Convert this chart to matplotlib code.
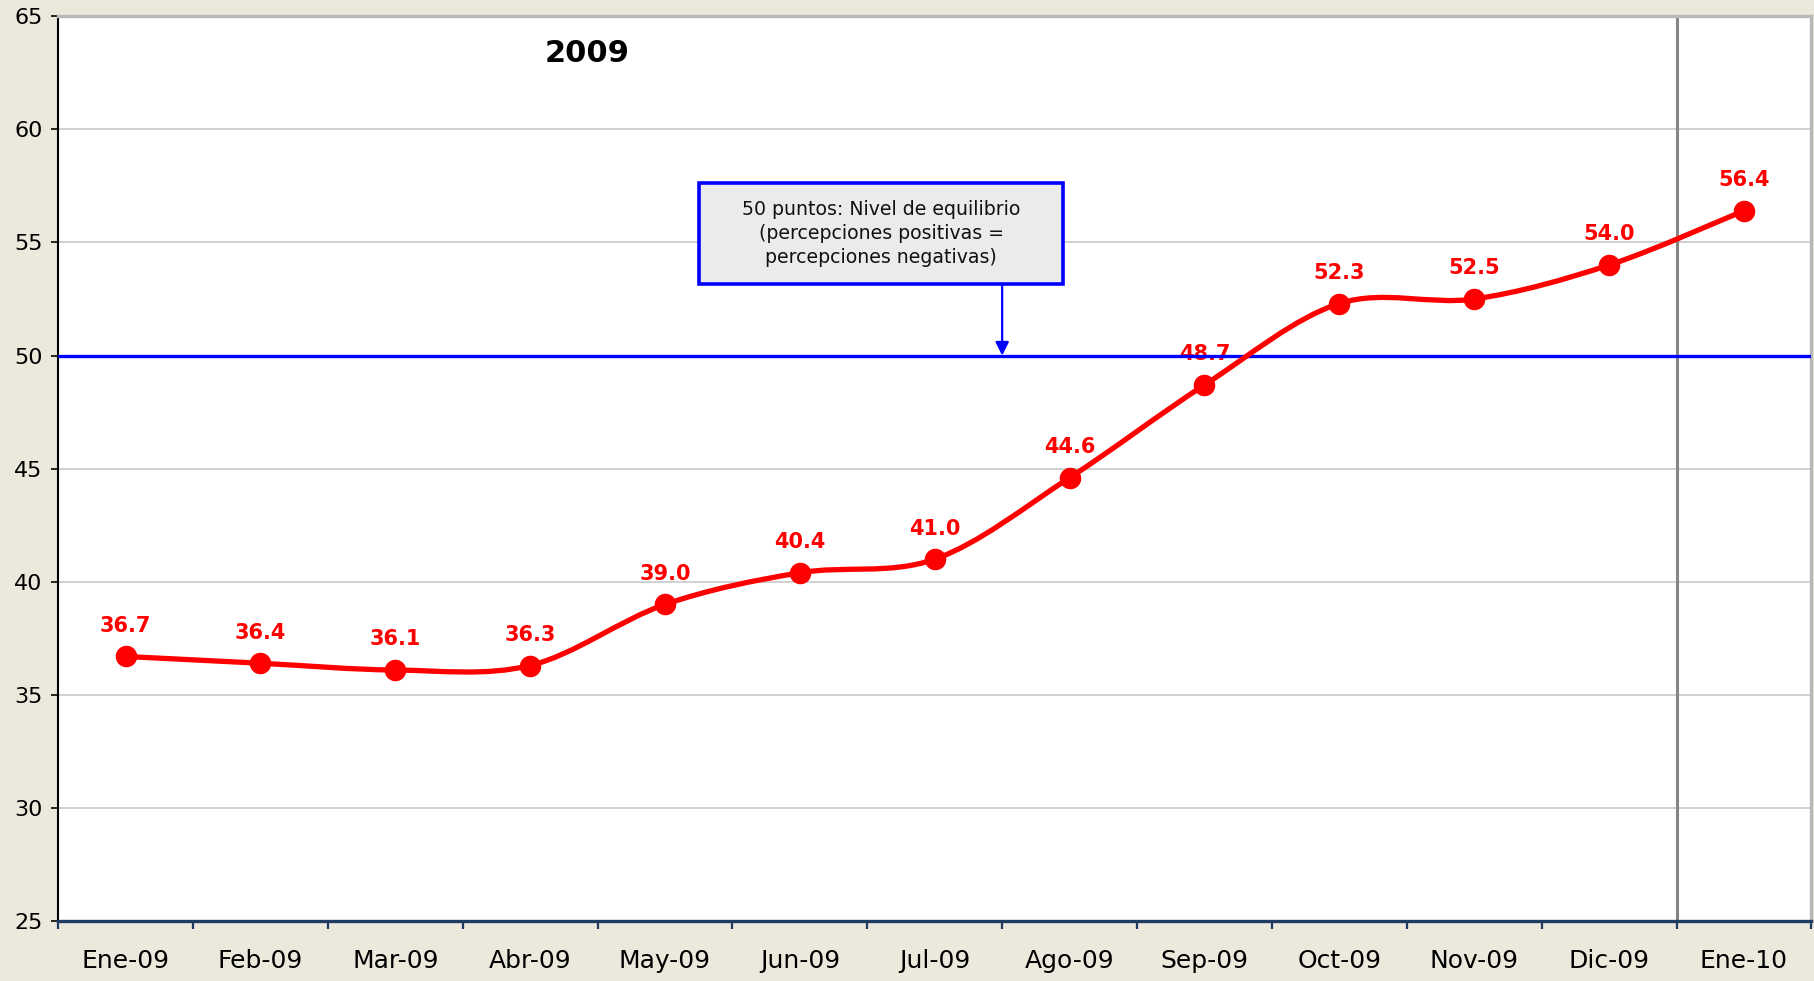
#!/usr/bin/env python3

import matplotlib.pyplot as plt
import numpy as np
from matplotlib.path import Path
from matplotlib.patches import PathPatch, Rectangle

# Data
months = ['Ene-09', 'Feb-09', 'Mar-09', 'Abr-09', 'May-09', 'Jun-09', 'Jul-09',
          'Ago-09', 'Sep-09', 'Oct-09', 'Nov-09', 'Dic-09', 'Ene-10']
values = [36.7, 36.4, 36.1, 36.3, 39.0, 40.4, 41.0, 44.6, 48.7, 52.3, 52.5, 54.0, 56.4]
equilibrium = 50
year_title = '2009'
note_text = '50 puntos: Nivel de equilibrio\n(percepciones positivas =\npercepciones negativas)'


def smooth_path(x, y):
    # Excel-style smoothed line: cubic Bezier segments through every point
    pts = np.column_stack([x, y]).astype(float)
    n = len(pts)
    verts = [pts[0]]
    codes = [Path.MOVETO]
    for i in range(n - 1):
        p_prev = pts[max(i - 1, 0)]
        p0 = pts[i]
        p1 = pts[i + 1]
        p_next = pts[min(i + 2, n - 1)]
        c1 = p0 + (p1 - p_prev) / 6.0
        c2 = p1 - (p_next - p0) / 6.0
        verts += [c1, c2, p1]
        codes += [Path.CURVE4] * 3
    return Path(verts, codes)


def main():
    red = '#ff0000'
    blue = '#0000ff'
    navy = '#1f3b64'

    fig = plt.figure(figsize=(18.15, 9.81), dpi=100, facecolor='#ebe9dc')
    ax = fig.add_axes([0.032, 0.061, 0.966, 0.9225])
    ax.set_facecolor('white')

    x = np.arange(len(months))

    # Equilibrium line (drawn over the labels, under the red series)
    ax.axhline(equilibrium, color=blue, lw=2.4, zorder=6)

    # Separator between 2009 and 2010
    ax.axvline(11.5, color='#858585', lw=2.2, zorder=2)

    # Smoothed series line and markers
    ax.add_patch(PathPatch(smooth_path(x, values), facecolor='none',
                           edgecolor=red, lw=3.8, zorder=7, capstyle='round'))
    ax.plot(x, values, 'o', color=red, markersize=14.5, zorder=8)

    for xi, v in zip(x, values):
        ax.annotate(f'{v:.1f}', (xi, v), xytext=(0, 22), textcoords='offset points',
                    ha='center', va='center', color=red, fontsize=15,
                    fontweight='bold', zorder=5)

    # Title inside the plot
    ax.text(3.42, 63.35, year_title, ha='center', va='center', fontsize=22,
            fontweight='bold', color='black')

    # Annotation box with arrow
    ax.add_patch(Rectangle((4.253, 53.18), 2.70, 4.45, facecolor='#e9ebed',
                           edgecolor=blue, lw=2.6, zorder=9))
    ax.text(5.603, 55.40, note_text, ha='center', va='center', fontsize=13.6,
            linespacing=1.35, color='#111111', zorder=10)
    ax.annotate('', xy=(6.5, equilibrium), xytext=(6.5, 53.18),
                arrowprops=dict(arrowstyle='-|>', color=blue, lw=1.6,
                                mutation_scale=20, shrinkA=0, shrinkB=0),
                zorder=9)

    # Axes, ticks and grid
    ax.set_xlim(-0.5, len(months) - 0.5)
    ax.set_ylim(25, 65)
    ax.set_yticks(np.arange(25, 66, 5))
    ax.set_xticks(x)
    ax.set_xticklabels(months)
    ax.set_xticks(np.arange(-0.5, len(months)), minor=True)
    ax.tick_params(axis='x', which='major', length=0, pad=20, labelsize=18)
    ax.tick_params(axis='x', which='minor', length=6, width=1.6, color=navy)
    ax.tick_params(axis='y', length=5, width=1.2, pad=6, labelsize=16)
    ax.grid(axis='y', color='#c4c4c4', lw=1.1, zorder=1)
    ax.set_axisbelow(True)

    ax.spines['left'].set_color('black')
    ax.spines['left'].set_linewidth(1.5)
    ax.spines['bottom'].set_color(navy)
    ax.spines['bottom'].set_linewidth(2.4)
    ax.spines['bottom'].set_zorder(11)
    for side in ('top', 'right'):
        ax.spines[side].set_color('#b8b8b8')
        ax.spines[side].set_linewidth(2.4)

    fig.savefig('out.png', dpi=100, facecolor=fig.get_facecolor())


if __name__ == "__main__":
    main()
